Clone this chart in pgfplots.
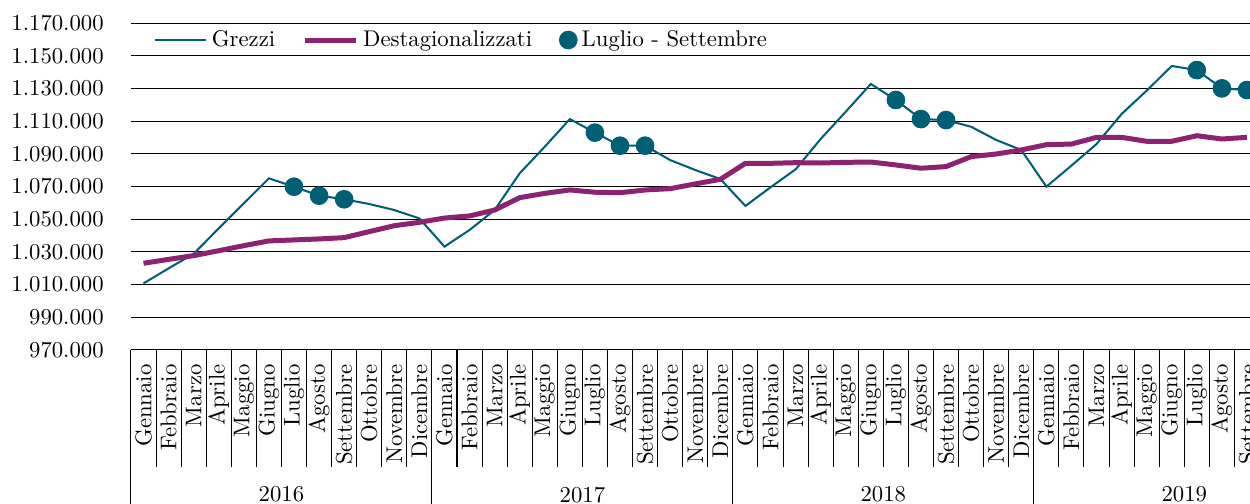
\documentclass[border=0pt]{standalone}
\usepackage{pgfplots}
\pgfplotsset{compat=1.18}
\definecolor{teal1}{RGB}{0,94,117}
\definecolor{purp1}{RGB}{140,35,112}
\pgfplotsset{dotlegend/.style={legend image code/.code={\draw[##1] plot coordinates {(4pt,0pt)};}}}
\begin{document}
\begin{tikzpicture}
\begin{axis}[
  scale only axis,
  width=496.6pt, height=143.74pt,
  xmin=-0.5, xmax=44.5,
  ymin=970000, ymax=1170000,
  enlargelimits=false,
  clip mode=individual,
  scaled y ticks=false,
  axis x line=bottom,
  axis y line=left,
  x axis line style={-, black, line width=0.45pt},
  y axis line style={draw=none},
  ytick={970000,990000,1010000,1030000,1050000,1070000,1090000,1110000,1130000,1150000,1170000},
  yticklabels={970.000,990.000,1.010.000,1.030.000,1.050.000,1.070.000,1.090.000,1.110.000,1.130.000,1.150.000,1.170.000},
  yticklabel style={xshift=-8.5pt},
  ytick style={draw=none},
  ymajorgrids,
  grid style={black, line width=0.45pt},
  xtick={0,...,44},
  xticklabels={Gennaio,Febbraio,Marzo,Aprile,Maggio,Giugno,Luglio,Agosto,Settembre,Ottobre,Novembre,Dicembre,
               Gennaio,Febbraio,Marzo,Aprile,Maggio,Giugno,Luglio,Agosto,Settembre,Ottobre,Novembre,Dicembre,
               Gennaio,Febbraio,Marzo,Aprile,Maggio,Giugno,Luglio,Agosto,Settembre,Ottobre,Novembre,Dicembre,
               Gennaio,Febbraio,Marzo,Aprile,Maggio,Giugno,Luglio,Agosto,Settembre},
  xticklabel style={yshift=-3pt, rotate=90, anchor=east},
  major tick length=0pt,
  minor xtick={-0.5,0.5,...,44.5},
  minor tick length=51.5pt,
  tick align=outside,
  minor tick style={black, line width=0.45pt},
  legend columns=3,
  legend style={draw=none, fill=none, at={(axis cs:-0.5,1159600)}, anchor=west, xshift=7pt,
    /tikz/every even column/.append style={column sep=10pt}},
  legend image code/.code={\draw[#1] (0pt,0pt) -- (22.5pt,0pt);},
]
\addplot[teal1, line width=0.9pt, mark=none] table[x=i, y=v] {
i v
0 1010600
1 1019800
2 1028700
3 1044300
4 1059600
5 1074900
6 1069800
7 1064300
8 1062100
9 1059200
10 1055500
11 1050400
12 1033100
13 1043300
14 1055500
15 1078000
16 1094300
17 1111200
18 1102900
19 1094900
20 1094900
21 1086100
22 1080000
23 1074500
24 1058000
25 1069400
26 1080400
27 1099000
28 1115700
29 1132700
30 1122900
31 1111200
32 1110600
33 1106500
34 1098400
35 1092300
36 1069800
37 1082700
38 1095900
39 1114300
40 1128600
41 1143700
42 1141200
43 1130000
44 1129000
};
\addlegendentry{Grezzi}
\addplot[purp1, line width=2.2pt, mark=none] table[x=i, y=v] {
i v
0 1022900
1 1025300
2 1027600
3 1030600
4 1033700
5 1036600
6 1037200
7 1037800
8 1038600
9 1042300
10 1045900
11 1048000
12 1050600
13 1051900
14 1055500
15 1063100
16 1065700
17 1067800
18 1066400
19 1066100
20 1067800
21 1068600
22 1071500
23 1074300
24 1084100
25 1084100
26 1084500
27 1084300
28 1084700
29 1084900
30 1083100
31 1081100
32 1082100
33 1088200
34 1089800
35 1092300
36 1095500
37 1095900
38 1100000
39 1100000
40 1097600
41 1097600
42 1101000
43 1099000
44 1100000
};
\addlegendentry{Destagionalizzati}
\addplot[only marks, mark=*, mark size=3.9pt, mark options={fill=teal1, draw=teal1}, dotlegend] table[x=i, y=v] {
i v
6 1069800
7 1064300
8 1062100
18 1102900
19 1094900
20 1094900
30 1122900
31 1111200
32 1110600
42 1141200
43 1130000
44 1129000
};
\addlegendentry{Luglio - Settembre}
\draw[black, line width=0.45pt] (axis cs:-0.5,970000) -- ++(0pt,-80pt);
\draw[black, line width=0.45pt] (axis cs:11.5,970000) -- ++(0pt,-80pt);
\draw[black, line width=0.45pt] (axis cs:23.5,970000) -- ++(0pt,-80pt);
\draw[black, line width=0.45pt] (axis cs:35.5,970000) -- ++(0pt,-80pt);
\node at ([yshift=-63.8pt]axis cs:5.5,970000) {2016};
\node at ([yshift=-63.8pt]axis cs:17.5,970000) {2017};
\node at ([yshift=-63.8pt]axis cs:29.5,970000) {2018};
\node at ([yshift=-63.8pt]axis cs:41.5,970000) {2019};
\coordinate (bbTL) at (axis cs:-5.723,1184100);
\coordinate (bbBR) at (axis cs:44.12,875530);
\end{axis}
\pgfresetboundingbox
\path[use as bounding box] (bbTL) rectangle (bbBR);
\end{tikzpicture}
\end{document}
